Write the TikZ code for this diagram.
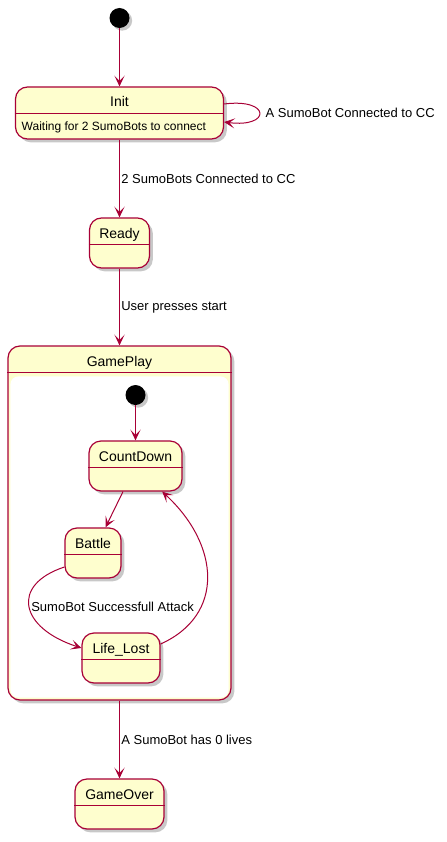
\documentclass[tikz,border=0pt]{standalone}
\usepackage{fontspec}
\setmainfont{Liberation Sans}
\usetikzlibrary{arrows.meta,shadows}
\definecolor{StateRed}{HTML}{A80036}
\definecolor{StateFill}{HTML}{FEFECE}

\begin{document}
\begin{tikzpicture}[x=0.75pt, y=-0.75pt,
  every node/.style={font=\fontsize{9.75}{11}\selectfont},
  statebox/.style={draw=StateRed, fill=StateFill, line width=0.9pt, rounded corners=9pt,
    inner xsep=0pt, inner ysep=0pt, text height=15pt, text depth=22.5pt,
    font=\fontsize{10.5}{12}\selectfont,
    drop shadow={shadow xshift=2.5pt, shadow yshift=-2.5pt, opacity=0.3, fill=black!70}},
  divider/.style={draw=StateRed, line width=0.9pt},
  startdot/.style={circle, fill=black, minimum size=15pt, inner sep=0pt,
    drop shadow={shadow xshift=2pt, shadow yshift=-2pt, opacity=0.3, fill=black!70}},
  trans/.style={draw=StateRed, line width=0.75pt, -{Stealth[length=8pt, width=7.5pt, inset=4pt]}},
  translabel/.style={inner sep=1pt}]
  \fill[white] (0,0) rectangle (446,842);

  % outer states
  \node[startdot] (start) at (119.5,18) {};
  \node[statebox, minimum width=156pt, text depth=24pt] (init) at (119.5,113) {Init};
  \node[anchor=west, font=\fontsize{9}{11}\selectfont] (initdo) at (17,127) {Waiting for 2 SumoBots to connect};
  \node[statebox, minimum width=45pt] (ready) at (119.5,243) {Ready};
  \node[statebox, minimum width=167.25pt, text depth=250.5pt] (gameplay) at (119.5,523) {GamePlay};
  \fill[white, rounded corners=6pt] ([shift={(3,31)}]gameplay.north west) rectangle ([shift={(-3,-3)}]gameplay.south east);
  \node[statebox, minimum width=66.75pt] (gameover) at (119.5,804) {GameOver};

  % inside GamePlay
  \node[startdot] (inner) at (135.5,395) {};
  \node[statebox, minimum width=69.75pt] (countdown) at (135.5,466) {CountDown};
  \node[statebox, minimum width=42pt] (battle) at (93,553) {Battle};
  \node[statebox, minimum width=58.5pt] (lifelost) at (121,658) {Life\_Lost};

  % name / body dividers
  \foreach \s in {init,ready,gameplay,gameover,countdown,battle,lifelost}
    \draw[divider] ([yshift=-20.5pt]\s.north west) -- ([yshift=-20.5pt]\s.north east);

  % transitions
  \draw[trans] (start) -- (init);
  \draw[trans] ([yshift=6.75pt]init.east) .. controls +(47,-6) and +(47,6) ..
    node[right=1pt] {A SumoBot Connected to CC} ([yshift=-6.75pt]init.east);
  \draw[trans] (init) -- node[right, translabel] {2 SumoBots Connected to CC} (ready);
  \draw[trans] (ready) -- node[right, translabel] {User presses start} (gameplay);
  \draw[trans] (gameplay) -- node[right, translabel] {A SumoBot has 0 lives} (gameover);
  \draw[trans] (inner) -- (countdown);
  \draw[trans] (countdown) -- (battle);
  \draw[trans] ([yshift=-10.5pt]battle.west) .. controls (10,585) and (20,628) ..
    node[anchor=west, translabel] {SumoBot Successfull Attack} ([yshift=7.5pt]lifelost.west);
  \draw[trans] ([yshift=10.5pt]lifelost.east) .. controls (225,615) and (220,545) .. ([xshift=20pt]countdown.south);
\end{tikzpicture}
\end{document}
